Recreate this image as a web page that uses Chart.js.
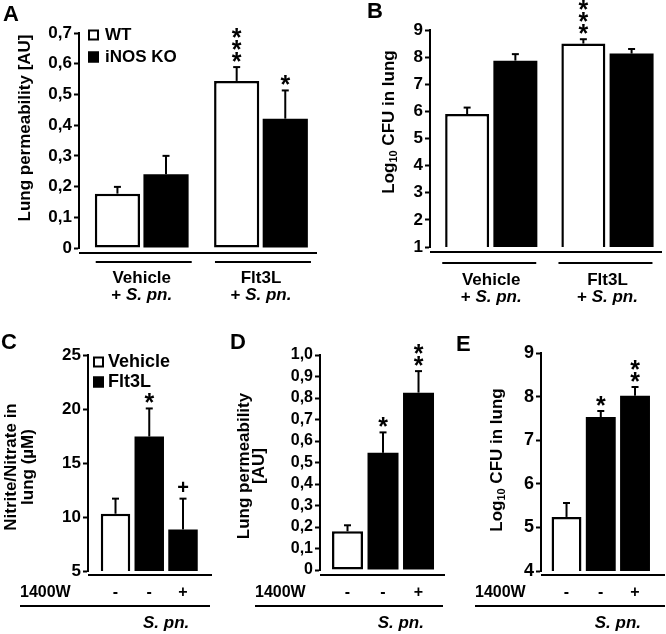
<!DOCTYPE html>
<html>
<head>
<meta charset="utf-8">
<title>Lung permeability, bacterial load and nitrite/nitrate</title>
<script src="https://cdn.jsdelivr.net/npm/chart.js@4.4.1/dist/chart.umd.min.js"></script>
<style>
  html, body { margin: 0; padding: 0; background: #fff; }
  #fig { position: relative; width: 666px; height: 634px; overflow: hidden; }
  #fig canvas { position: absolute; }
</style>
</head>
<body>
<div id="fig">
  <canvas id="panelA"></canvas>
  <canvas id="panelB"></canvas>
  <canvas id="panelC"></canvas>
  <canvas id="panelD"></canvas>
  <canvas id="panelE"></canvas>
</div>
<script>
// ---- data ----
const groups = ['Vehicle', 'Flt3L'];          // pretreatment (A, B) and legend of C
const strains = ['WT', 'iNOS KO'];
const species = 'S. pn.';

// A: lung permeability [AU]
const permWT = [0.177, 0.544];
const permWTErr = [0.022, 0.045];
const permKO = [0.240, 0.421];
const permKOErr = [0.060, 0.092];
const permWTStars = ['', '***'];
const permKOStars = ['', '*'];

// B: log10 CFU in lung
const cfuWT = [5.90, 8.50];
const cfuWTErr = [0.24, 0.16];
const cfuKO = [7.87, 8.13];
const cfuKOErr = [0.24, 0.17];
const cfuWTStars = ['', '***'];
const cfuKOStars = ['', ''];

// C-E: vehicle / Flt3L / Flt3L + 1400W
const inhibitorName = '1400W';
const inhibitor = ['-', '-', '+'];
const barFills = ['#fff', '#000', '#000'];

const nitrite = [10.3, 17.45, 8.85];
const nitriteErr = [1.4, 2.6, 2.85];
const nitriteMarks = ['', '*', '+'];

const permD = [0.180, 0.545, 0.825];
const permDErr = [0.028, 0.095, 0.100];
const permDStars = ['', '*', '**'];

const cfuE = [5.24, 7.53, 8.02];
const cfuEErr = [0.32, 0.14, 0.20];
const cfuEStars = ['', '*', '**'];

// ---- helpers ----
const SANS = '"Liberation Sans", Arial, Helvetica, sans-serif';
const f = (size, style = '') => `${style} bold ${size}px ${SANS}`.trim();

function line(ctx, x1, y1, x2, y2, w) {
  ctx.lineWidth = w;
  ctx.beginPath();
  ctx.moveTo(x1, y1);
  ctx.lineTo(x2, y2);
  ctx.stroke();
}

// draw a run of text segments, centred (or left-aligned) on x
function rich(ctx, segs, x, y, align = 'center') {
  let w = 0;
  segs.forEach(s => { ctx.font = s.f; w += ctx.measureText(s.t).width; });
  let cx = align === 'left' ? x : x - w / 2;
  ctx.textAlign = 'left';
  ctx.textBaseline = 'middle';
  segs.forEach(s => {
    ctx.font = s.f;
    ctx.fillText(s.t, cx, y + (s.dy || 0));
    cx += ctx.measureText(s.t).width;
  });
}

function makeDecor(p) {
  return {
    id: 'decor',
    afterDatasetsDraw(chart) {
      const ctx = chart.ctx, ys = chart.scales.y, xs = chart.scales.x;
      const [ox, oy] = p.origin;
      ctx.save();
      ctx.translate(-ox, -oy);          // from here on: figure coordinates
      ctx.fillStyle = '#000';
      ctx.strokeStyle = '#000';

      // upper error bars + significance marks
      chart.data.datasets.forEach((ds, di) => {
        chart.getDatasetMeta(di).data.forEach((bar, i) => {
          const x = bar.x + ox;
          const top = bar.y + oy;
          const ey = ys.getPixelForValue(ds.data[i].y + ds.err[i]) + oy;
          line(ctx, x, top, x, ey, 2);
          line(ctx, x - 3.5, ey, x + 3.5, ey, 2);
          [...(ds.marks[i] || '')].forEach((ch, k) => {
            const cy = ey - 11 - k * 12;
            ctx.textAlign = 'center';
            ctx.textBaseline = 'alphabetic';
            if (ch === '+') { ctx.font = f(20); ctx.fillText(ch, x, cy + 0.33 * 20); }
            else { ctx.font = f(25); ctx.fillText(ch, x, cy + 0.56 * 25); }
          });
        });
      });

      // horizontal base line under the bars
      line(ctx, p.base.x1, p.base.y, p.base.x2, p.base.y, 2);

      // panel letter
      ctx.textAlign = 'left';
      ctx.textBaseline = 'alphabetic';
      ctx.font = f(p.letter.size);
      ctx.fillText(p.letter.t, p.letter.x, p.letter.y);

      // rotated y title
      p.yTitle.lines.forEach((segs, li) => {
        ctx.save();
        ctx.translate(p.yTitle.x[li], p.yTitle.y);
        ctx.rotate(-Math.PI / 2);
        rich(ctx, segs.map(s => ({ t: s.t, f: f(s.sub ? 11 : p.yTitle.size), dy: s.sub ? 5 : 0 })), 0, 0);
        ctx.restore();
      });

      // legend
      if (p.legend) {
        const L = p.legend;
        L.labels.forEach((lab, i) => {
          const cy = L.y[i];
          ctx.fillStyle = L.fills[i];
          ctx.fillRect(L.x, cy - L.box / 2, L.box, L.box);
          ctx.lineWidth = 2;
          ctx.strokeRect(L.x + 1, cy - L.box / 2 + 1, L.box - 2, L.box - 2);
          ctx.fillStyle = '#000';
          rich(ctx, [{ t: lab, f: f(L.size) }], L.tx, cy, 'left');
        });
      }

      // group labels under A / B
      if (p.groups) {
        const G = p.groups;
        G.labels.forEach((lab, i) => {
          const cx = xs.getPixelForValue(i + 1) + ox;
          line(ctx, cx + G.dx - G.half, G.lineY, cx + G.dx + G.half, G.lineY, 2);
          rich(ctx, [{ t: lab, f: f(G.size) }], cx, G.y1);
          rich(ctx, [{ t: '+ ', f: f(G.size) }, { t: species, f: f(G.size, 'italic') }], cx, G.y2);
        });
      }

      // inhibitor row under C / D / E
      if (p.treat) {
        const T = p.treat;
        const bars = chart.getDatasetMeta(0).data;
        rich(ctx, [{ t: inhibitorName, f: f(T.size) }], T.nameX, T.y, 'left');
        inhibitor.forEach((s, i) => rich(ctx, [{ t: s, f: f(T.size) }], bars[i].x + ox, T.y));
        line(ctx, T.x1, T.lineY, T.x2, T.lineY, 2);
        const sx = (bars[1].x + bars[2].x) / 2 + ox;
        rich(ctx, [{ t: species, f: f(T.size + 1, 'italic') }], sx, T.speciesY);
      }
      ctx.restore();
    }
  };
}

function tickText(v, decimals) {
  if (Math.abs(v) < 1e-9) return '0';
  return decimals ? v.toFixed(decimals).replace('.', ',') : String(Math.round(v));
}

function barPanel(id, p) {
  const el = document.getElementById(id);
  const [ox, oy] = p.origin;
  el.width = p.size[0];
  el.height = p.size[1];
  el.style.left = ox + 'px';
  el.style.top = oy + 'px';
  const a = p.area;
  return new Chart(el, {
    type: 'bar',
    data: {
      datasets: p.datasets.map(d => ({
        data: d.values.map((v, i) => ({ x: i + 1, y: v })),
        err: d.err,
        marks: d.marks,
        backgroundColor: d.fill,
        borderColor: '#000',
        borderWidth: d.border,
        borderSkipped: false,
        categoryPercentage: p.cp,
        barPercentage: p.bp
      }))
    },
    options: {
      responsive: false,
      animation: false,
      events: [],
      layout: { padding: { left: 0, top: a.t - oy, right: ox + p.size[0] - a.r, bottom: oy + p.size[1] - a.b } },
      plugins: { legend: { display: false }, tooltip: { enabled: false } },
      scales: {
        x: {
          type: 'linear', min: p.xRange[0], max: p.xRange[1], offset: false, display: false,
          ticks: { stepSize: 1, includeBounds: false }
        },
        y: {
          min: p.yRange[0], max: p.yRange[1],
          afterFit: s => { s.width = a.l - ox; },
          ticks: {
            stepSize: p.step, color: '#000', padding: 2, autoSkip: false,
            font: { family: SANS, weight: 'bold', size: p.tickSize },
            callback: v => tickText(v, p.decimals)
          },
          grid: { display: true, drawOnChartArea: false, drawTicks: true, tickLength: 5, tickColor: '#000', tickWidth: 2 },
          border: { display: true, color: '#000', width: 2 }
        }
      }
    },
    plugins: [makeDecor(p)]
  });
}

// ---- panels ----
barPanel('panelA', {
  origin: [0, 0], size: [333, 330],
  area: { l: 79, t: 33, r: 320, b: 248 },
  xRange: [0.474, 2.495], cp: 0.815, bp: 0.93,
  yRange: [0, 0.7], step: 0.1, tickSize: 17, decimals: 1,
  datasets: [
    { values: permWT, err: permWTErr, marks: permWTStars, fill: '#fff', border: 2.5 },
    { values: permKO, err: permKOErr, marks: permKOStars, fill: '#000', border: 0 }
  ],
  letter: { t: 'A', x: 3, y: 21, size: 22 },
  yTitle: { lines: [[{ t: 'Lung permeability [AU]' }]], x: [25], y: 128, size: 17 },
  legend: { labels: strains, fills: ['#fff', '#000'], x: 88, y: [35, 57], box: 11, tx: 105, size: 17 },
  base: { x1: 79, x2: 317, y: 253 },
  groups: { labels: groups, lineY: 262, half: 48, dx: 2, y1: 278, y2: 295, size: 17 }
});

barPanel('panelB', {
  origin: [333, 0], size: [333, 330],
  area: { l: 430, t: 30, r: 665, b: 247 },
  xRange: [0.473, 2.495], cp: 0.83, bp: 0.912,
  yRange: [1, 9], step: 1, tickSize: 17, decimals: 0,
  datasets: [
    { values: cfuWT, err: cfuWTErr, marks: cfuWTStars, fill: '#fff', border: 2.5 },
    { values: cfuKO, err: cfuKOErr, marks: cfuKOStars, fill: '#000', border: 0 }
  ],
  letter: { t: 'B', x: 367, y: 18, size: 22 },
  yTitle: { lines: [[{ t: 'Log' }, { t: '10', sub: true }, { t: ' CFU in lung' }]], x: [389], y: 122, size: 17 },
  base: { x1: 430, x2: 662, y: 252 },
  groups: { labels: groups, lineY: 263, half: 47, dx: -2, y1: 280, y2: 297, size: 17 }
});

barPanel('panelC', {
  origin: [0, 330], size: [230, 304],
  area: { l: 88, t: 355, r: 215, b: 571 },
  xRange: [0.185, 3.948], cp: 0.9, bp: 0.97,
  yRange: [5, 25], step: 5, tickSize: 17, decimals: 0,
  datasets: [
    { values: nitrite, err: nitriteErr, marks: nitriteMarks, fill: barFills, border: [2.5, 0, 0] }
  ],
  letter: { t: 'C', x: 1, y: 349, size: 22 },
  yTitle: { lines: [[{ t: 'Nitrite/Nitrate in' }], [{ t: 'lung (µM)' }]], x: [11, 28], y: 467, size: 17 },
  legend: { labels: groups, fills: ['#fff', '#000'], x: 93, y: [362, 382], box: 11, tx: 108, size: 18 },
  base: { x1: 88, x2: 212, y: 575 },
  treat: { nameX: 20, y: 593, lineY: 606, x1: 20, x2: 210, speciesY: 623, size: 16 }
});

barPanel('panelD', {
  origin: [230, 330], size: [220, 304],
  area: { l: 320, t: 355, r: 445, b: 570 },
  xRange: [0.225, 3.746], cp: 0.9, bp: 0.97,
  yRange: [0, 1], step: 0.1, tickSize: 16, decimals: 1,
  datasets: [
    { values: permD, err: permDErr, marks: permDStars, fill: barFills, border: [2.5, 0, 0] }
  ],
  letter: { t: 'D', x: 230, y: 349, size: 22 },
  yTitle: { lines: [[{ t: 'Lung permeability' }], [{ t: '[AU]' }]], x: [244, 259], y: 466, size: 17 },
  base: { x1: 320, x2: 445, y: 575 },
  treat: { nameX: 255, y: 593, lineY: 606, x1: 255, x2: 443, speciesY: 623, size: 16 }
});

barPanel('panelE', {
  origin: [450, 330], size: [216, 304],
  area: { l: 541, t: 353, r: 665, b: 571 },
  xRange: [0.255, 3.875], cp: 0.9, bp: 0.97,
  yRange: [4, 9], step: 1, tickSize: 18, decimals: 0,
  datasets: [
    { values: cfuE, err: cfuEErr, marks: cfuEStars, fill: barFills, border: [2.5, 0, 0] }
  ],
  letter: { t: 'E', x: 456, y: 351, size: 22 },
  yTitle: { lines: [[{ t: 'Log' }, { t: '10', sub: true }, { t: ' CFU in lung' }]], x: [497], y: 460, size: 17 },
  base: { x1: 541, x2: 665, y: 575 },
  treat: { nameX: 475, y: 593, lineY: 606, x1: 475, x2: 665, speciesY: 623, size: 16 }
});
</script>
</body>
</html>
